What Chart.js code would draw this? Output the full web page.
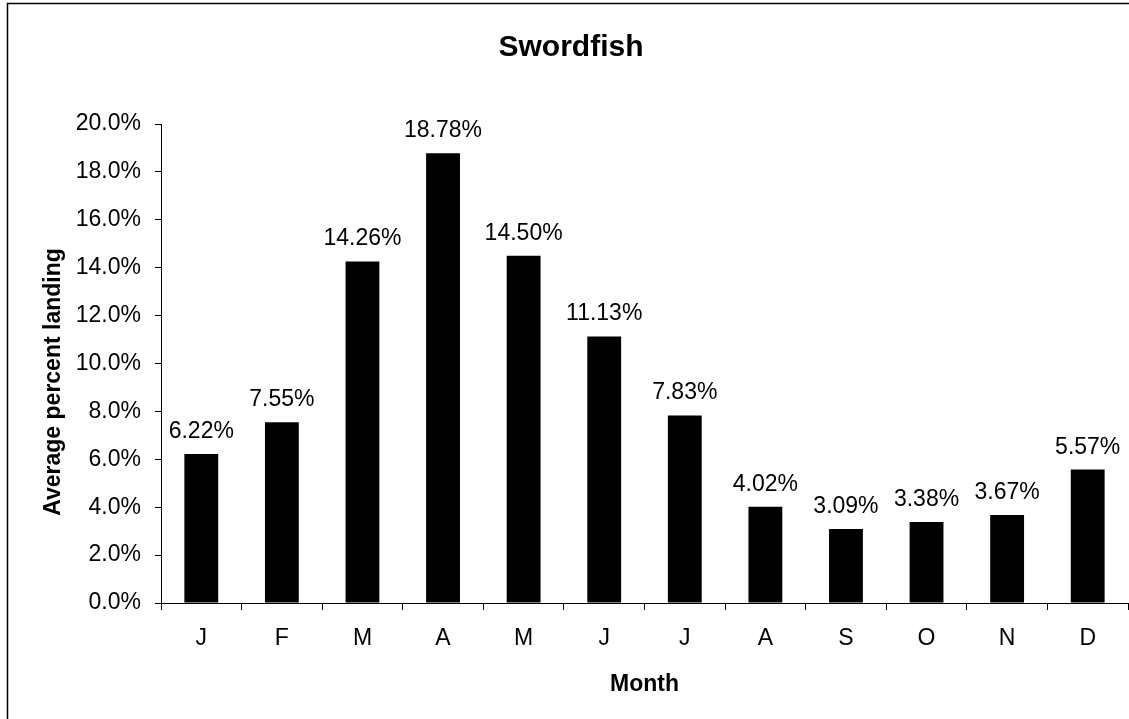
<!DOCTYPE html>
<html lang="en"><head>
<meta charset="utf-8"/>
<title>Swordfish</title>
<script src="https://cdn.jsdelivr.net/npm/chart.js"></script>
<style>
        html, body { margin: 0; padding: 0; background: #fff; }
        #wrap { width: 1129px; height: 719px; }
    </style>
</head>
<body>
<div id="wrap"><canvas id="chart" width="1129" height="719"></canvas></div>
<script>
        const months = ['J', 'F', 'M', 'A', 'M', 'J', 'J', 'A', 'S', 'O', 'N', 'D'];
        const landing = [6.22, 7.55, 14.26, 18.78, 14.50, 11.13, 7.83, 4.02, 3.09, 3.38, 3.67, 5.57];
        const yTicks = [0, 2, 4, 6, 8, 10, 12, 14, 16, 18, 20];

        const FONT = "'Liberation Sans', Arial, sans-serif";

        // frame, title, y title and value labels
        const extras = {
            id: 'extras',
            beforeDraw(chart) {
                const ctx = chart.ctx;
                ctx.save();
                ctx.fillStyle = '#fff';
                ctx.fillRect(0, 0, chart.width, chart.height);
                ctx.strokeStyle = '#000';
                ctx.lineWidth = 1.5;
                ctx.strokeRect(7.5, 3.5, chart.width + 10, chart.height + 10);
                ctx.restore();
            },
            afterDraw(chart) {
                const ctx = chart.ctx;
                ctx.save();
                ctx.fillStyle = '#000';
                ctx.textAlign = 'center';
                ctx.textBaseline = 'alphabetic';
                ctx.font = 'bold 30px ' + FONT;
                ctx.fillText('Swordfish', 571, 56);

                ctx.translate(60, 382);
                ctx.rotate(-Math.PI / 2);
                ctx.font = 'bold 23px ' + FONT;
                ctx.fillText('Average percent landing', 0, 0);
                ctx.restore();

                ctx.save();
                ctx.fillStyle = '#000';
                ctx.textAlign = 'center';
                ctx.textBaseline = 'alphabetic';
                ctx.font = '23px ' + FONT;
                const meta = chart.getDatasetMeta(0);
                meta.data.forEach((bar, i) => {
                    ctx.fillText(landing[i].toFixed(2) + '%', bar.x, bar.y - 16);
                });
                ctx.restore();
            }
        };

        new Chart(document.getElementById('chart'), {
            type: 'bar',
            data: {
                labels: months,
                datasets: [{
                    data: landing,
                    backgroundColor: '#000',
                    borderWidth: 0,
                    barPercentage: 0.42,
                    categoryPercentage: 1
                }]
            },
            options: {
                responsive: false,
                animation: false,
                layout: { padding: { left: 0, right: 1, top: 124, bottom: 0 } },
                plugins: {
                    legend: { display: false },
                    tooltip: { enabled: false }
                },
                scales: {
                    x: {
                        afterFit(scale) { scale.height = 116; },
                        border: { display: true, color: '#000', width: 1 },
                        grid: { drawOnChartArea: false, color: '#000', tickLength: 7 },
                        ticks: { color: '#000', padding: 15, font: { family: FONT, size: 23 } },
                        title: {
                            display: true,
                            text: 'Month',
                            color: '#000',
                            font: { family: FONT, size: 23, weight: 'bold' },
                            padding: { top: 0, bottom: 21 }
                        }
                    },
                    y: {
                        min: 0,
                        max: 20,
                        afterFit(scale) { scale.width = 161; },
                        afterBuildTicks(scale) { scale.ticks = yTicks.map(v => ({ value: v })); },
                        border: { display: true, color: '#000', width: 1 },
                        grid: { drawOnChartArea: false, color: '#000', tickLength: 6 },
                        ticks: {
                            color: '#000',
                            padding: 14,
                            font: { family: FONT, size: 23 },
                            callback: v => v.toFixed(1) + '%'
                        }
                    }
                }
            },
            plugins: [extras]
        });
    </script>
</body></html>
